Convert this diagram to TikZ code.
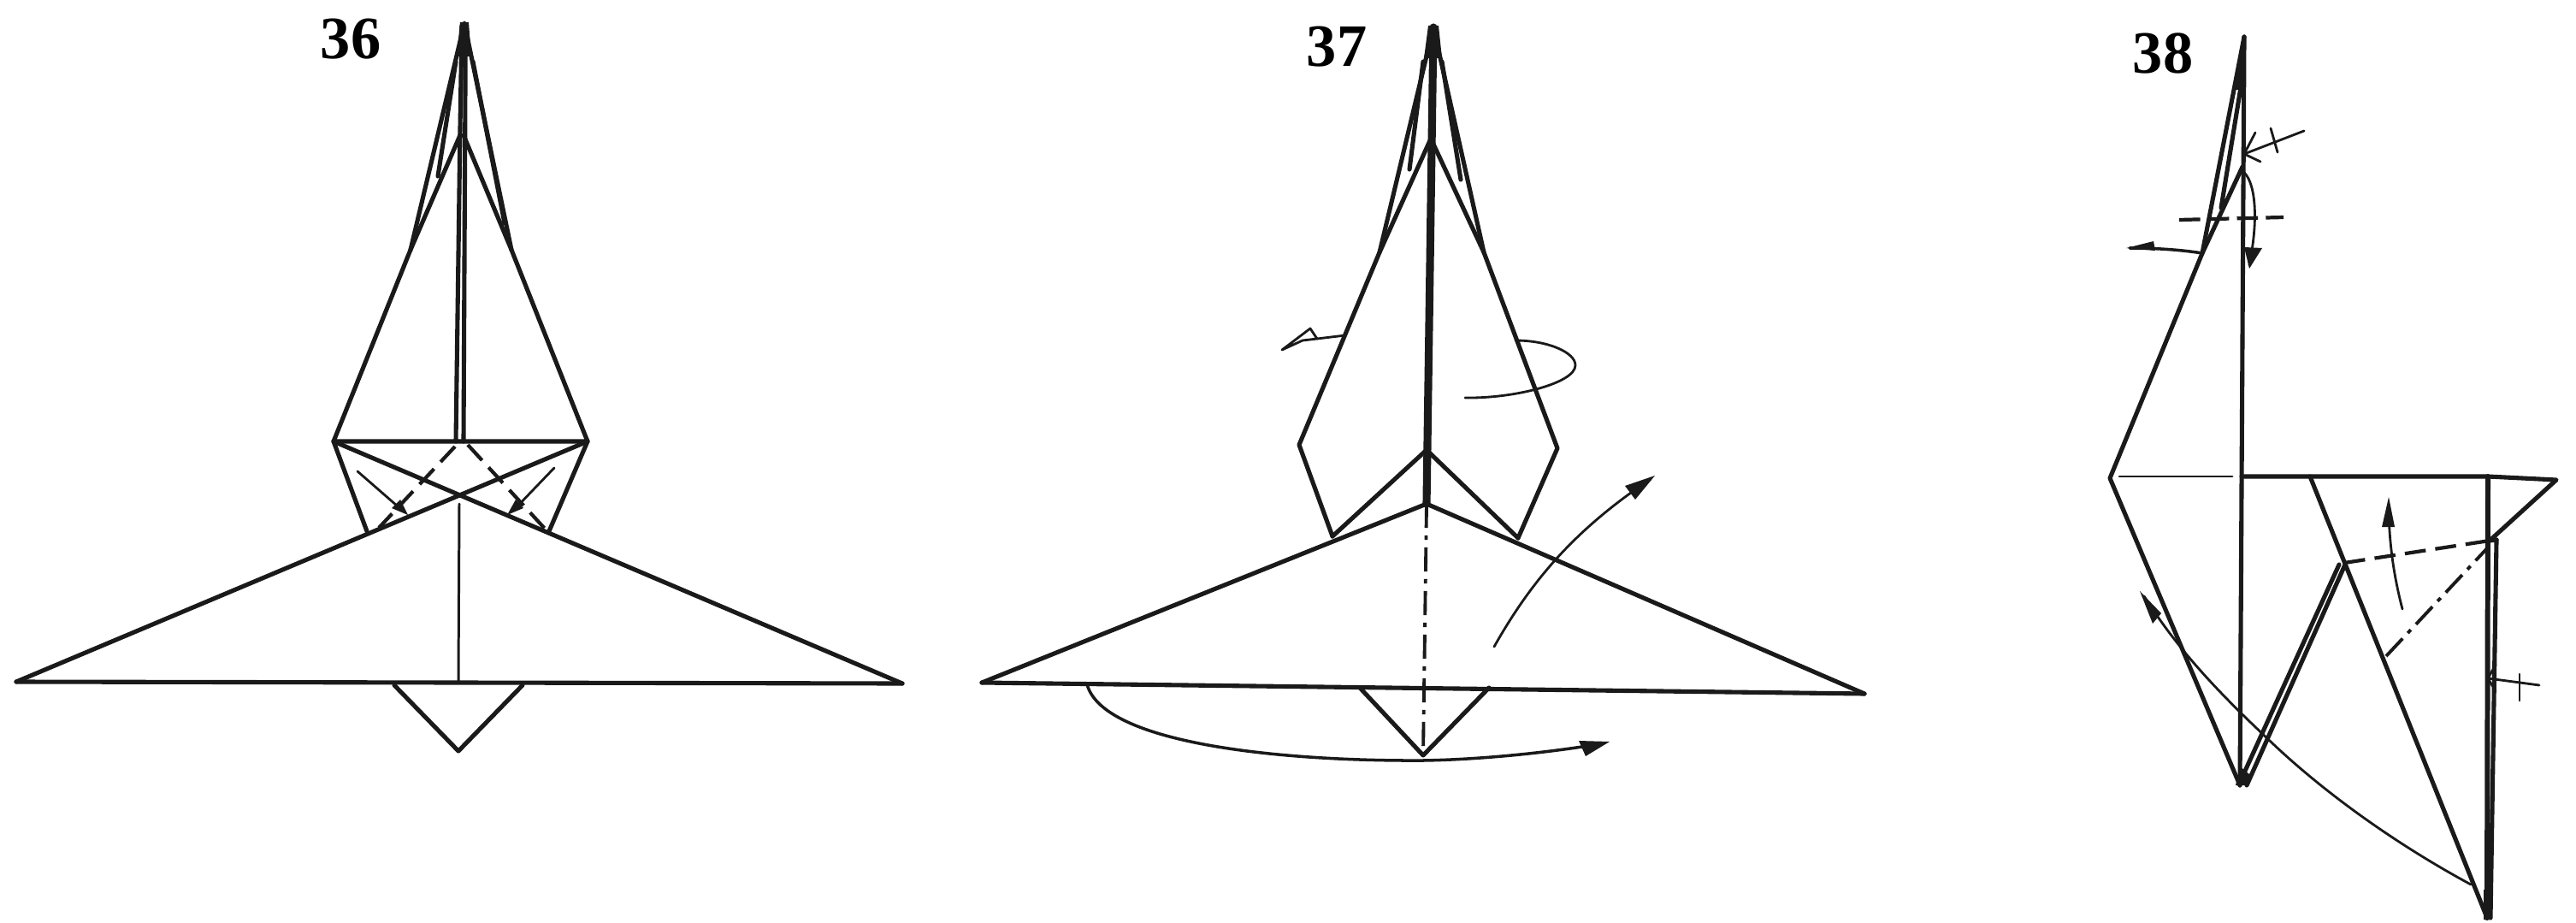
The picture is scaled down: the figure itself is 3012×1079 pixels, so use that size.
\documentclass[tikz,border=0pt]{standalone}
\usepackage{fontspec}
\setmainfont{Liberation Serif}
\begin{document}
\begin{tikzpicture}[x=0.01cm,y=-0.01cm,line join=round,line cap=round,
  foldline/.style={draw=ink,line width=1.45pt},
  thick fold/.style={draw=ink,line width=2.2pt},
  thinline/.style={draw=ink,line width=0.85pt},
  arrowline/.style={draw=ink,line width=0.8pt},
  valley/.style={draw=ink,line width=1.2pt,dash pattern=on 7pt off 3.2pt,line cap=butt},
  mountain/.style={draw=ink,line width=1.1pt,dash pattern=on 8pt off 2.5pt on 1.5pt off 2.5pt,line cap=butt},
  wedge/.style={fill=ink},
  steplabel/.style={font=\bfseries\fontsize{20}{20}\selectfont,text=black,inner sep=0pt}]
\definecolor{ink}{HTML}{1A1A1A}
\useasboundingbox (0,0) rectangle (3012,1079);
\fill[white] (0,0) rectangle (3012,1079);

% ---------- 36 ----------
\node[steplabel] (l36) at (410,46) {36};
\coordinate (a) at (543,27);
\coordinate (lc) at (390,516);
\coordinate (rc) at (687,516);
\coordinate (lb) at (480,292);
\coordinate (rb) at (598,292);
\coordinate (lt) at (19,797);
\coordinate (rt) at (1055,799);
\coordinate (tip) at (536,878);
\draw[foldline] (lc) -- (lb) -- (a) -- (rb) -- (rc) -- cycle;
\draw[foldline] (lb) -- (538,158) (rb) -- (542,158);
\draw[foldline] (533,72) -- (512,206) (553,72) -- (590,261);
\fill[wedge] (538,26) -- (548,26) -- (551,66) -- (534,66) -- cycle;
\draw[foldline] (533,516) -- (538,150) -- (540,30);
\draw[foldline] (542,516) -- (544,100) -- (544,30);
\draw[foldline] (lc) -- (429,621) (rc) -- (642,621);
\draw[foldline] (lt) -- (rc);
\draw[foldline] (rt) -- (lc);
\draw[foldline] (lt) -- (rt);
\draw[thinline] (537,589) -- (536,797);
\draw[valley] (532,522) -- (443,617);
\draw[valley] (547,520) -- (638,619);
\draw[arrowline] (418,551) -- (472,598);
\fill[ink] (477,602) -- (458,594) -- (468,584) -- cycle;
\draw[arrowline] (648,547) -- (600,597);
\fill[ink] (593,602) -- (612,594) -- (603,584) -- cycle;
\draw[foldline] (461,801) -- (tip) -- (611,801);

% ---------- 37 ----------
\node[steplabel] (l37) at (1563,55) {37};
\coordinate (a7) at (1676,32);
\coordinate (lc7) at (1519,520);
\coordinate (rc7) at (1821,524);
\coordinate (lb7) at (1613,295);
\coordinate (rb7) at (1735,295);
\coordinate (lf7) at (1558,627);
\coordinate (rf7) at (1775,629);
\coordinate (ap7) at (1668,589);
\coordinate (lt7) at (1148,798);
\coordinate (rt7) at (2180,811);
\coordinate (tip7) at (1664,883);
\draw[foldline] (lf7) -- (lc7) -- (lb7) -- (a7) -- (rb7) -- (rc7) -- (rf7);
\draw[foldline] (1613,295) -- (1673,162) -- (1735,295);
\draw[foldline] (1664,72) -- (1648,198) (1686,72) -- (1708,210);
\fill[wedge] (1670,30) -- (1682,30) -- (1686,68) -- (1665,68) -- cycle;
\draw[thick fold,line width=2.6pt] (a7) -- (ap7);
\draw[foldline] (lf7) -- (1668,526) -- (rf7);
\draw[foldline] (lt7) -- (ap7) -- (rt7);
\draw[foldline] (lt7) -- (rt7);
\draw[foldline] (1590,804) -- (tip7) -- (1741,804);
\draw[mountain] (ap7) -- (tip7);
% curved arrows
\draw[arrowline] (1747,756) .. controls (1790,680) and (1840,620) .. (1930,560);
\fill[ink] (1935,556) -- (1900,568) -- (1912,584) -- cycle;
\draw[arrowline,line width=1pt] (1271,800) .. controls (1290,870) and (1500,890) .. (1664,889) .. controls (1730,888) and (1810,880) .. (1875,869);
\fill[ink] (1882,867) -- (1846,866) -- (1854,884) -- cycle;
\draw[arrowline] (1573,392) -- (1540,396);
\draw[draw=ink,line width=0.8pt,fill=white] (1499,409) -- (1532,384) -- (1540,396) -- (1523,398) -- cycle;
\draw[arrowline] (1772,398) .. controls (1810,398) and (1842,412) .. (1842,427) .. controls (1842,448) and (1770,466) .. (1713,465);

% ---------- 38 ----------
\node[steplabel] (l38) at (2529,62) {38};
\coordinate (a8) at (2624,43);
\coordinate (bt) at (2619,918);
\coordinate (lb8) at (2575,296);
\coordinate (lc8) at (2467,559);
\coordinate (top8) at (2909,557);
\coordinate (rt8) at (2989,561);
\coordinate (k8) at (2741,658);
\coordinate (rm8) at (2911,632);
\coordinate (bot8) at (2908,1073);
\draw[foldline] (a8) -- (bt);
\draw[foldline] (a8) -- (lb8) -- (lc8) -- (bt);
\draw[foldline] (2621,96) -- (2597,243) (2622,195) -- (lb8);
\fill[wedge] (2622,42) -- (2626,42) -- (2625,105) -- (2612,105) -- cycle;
\draw[thinline] (2478,557) -- (2610,557);
\draw[foldline] (2621,557) -- (top8) -- (rt8) -- (rm8);
\draw[foldline,line width=1.7pt] (top8) -- (bot8);
\draw[foldline] (2919,631) -- (2912,1073);
\draw[foldline] (rm8) -- (2919,631);
\draw[foldline] (2701,557) -- (bot8);
\draw[foldline] (2742,660) -- (2627,918);
\draw[foldline] (2735,660) -- (2621,910);
\fill[wedge] (2614,918) -- (2628,918) -- (2630,905) -- (2619,896) -- cycle;
\fill[wedge] (2904,1040) -- (2914,1040) -- (2913,1075) -- (2904,1075) -- cycle;
\draw[valley] (k8) -- (rm8);
\draw[mountain] (2790,767) -- (2909,640);
\draw[valley,dash pattern=on 7pt off 2.6pt] (2548,257) -- (2670,254);
% arrows
\draw[arrowline] (2809,712) .. controls (2798,670) and (2793,630) .. (2793,590);
\fill[ink] (2793,581) -- (2785,616) -- (2800,616) -- cycle;
\draw[arrowline] (2889,1034) .. controls (2780,975) and (2700,910) .. (2655,867) .. controls (2600,815) and (2550,765) .. (2507,697);
\fill[ink] (2502,691) -- (2517,729) -- (2527,717) -- cycle;
\draw[arrowline] (2694,153) -- (2624,180);
\draw[arrowline] (2637,155) -- (2624,180) -- (2643,189);
\draw[arrowline] (2655,150) -- (2663,178);
\draw[arrowline] (2622,200) .. controls (2636,210) and (2642,250) .. (2630,310);
\fill[ink] (2630,314) -- (2624,289) -- (2645,290) -- cycle;
\draw[arrowline,line width=1pt] (lb8) .. controls (2550,292) and (2520,290) .. (2490,290);
\fill[ink] (2486,290) -- (2518,282) -- (2520,293) -- cycle;
\draw[arrowline] (2909,793) -- (2969,801);
\draw[arrowline] (2946,788) -- (2946,819);
\draw[arrowline] (2918,777) -- (2909,793) -- (2918,808);
\end{tikzpicture}
\end{document}
